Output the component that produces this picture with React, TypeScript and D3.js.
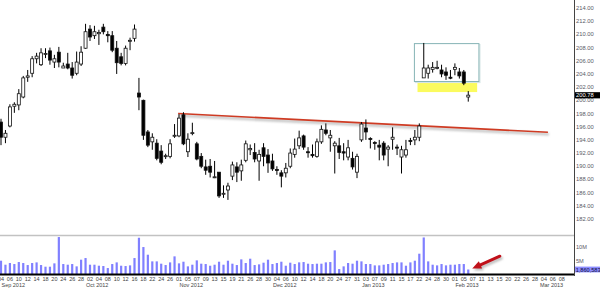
import React from "react";
import * as d3 from "d3";

// ---- trading calendar (day numbers per month) ----
const SEP_2012 = [4, 5, 6, 7, 10, 11, 12, 13, 14, 17, 18, 19, 20, 21, 24, 25, 26, 27, 28];
const OCT_2012 = [1, 2, 3, 4, 5, 8, 9, 10, 11, 12, 15, 16, 17, 18, 19, 22, 23, 24, 25, 26, 31];
const NOV_2012 = [1, 2, 5, 6, 7, 8, 9, 12, 13, 14, 15, 16, 19, 20, 21, 23, 26, 27, 28, 29, 30];
const DEC_2012 = [3, 4, 5, 6, 7, 10, 11, 12, 13, 14, 17, 18, 19, 20, 21, 24, 26, 27, 28, 31];
const JAN_2013 = [2, 3, 4, 7, 8, 9, 10, 11, 14, 15, 16, 17, 18, 22, 23, 24, 25, 28, 29, 30, 31];
const FEB_2013 = [1, 4, 5, 6, 7, 8, 11, 12, 13, 14, 15, 19, 20, 21, 22, 25, 26, 27, 28];
const MAR_2013 = [1, 4, 5, 6, 7, 8];
const MONTH_LABELS = ["Sep 2012", "Oct 2012", "Nov 2012", "Dec 2012", "Jan 2013", "Feb 2013", "Mar 2013"];
const MONTH_DAYS = [SEP_2012, OCT_2012, NOV_2012, DEC_2012, JAN_2013, FEB_2013, MAR_2013];

// ---- OHLC (Sep 4 2012 .. Feb 6 2013) ----
const OPEN = [
  196.7, 194.4, 196.1, 199.1, 199.3, 200.5, 203.5, 204.1, 206.3, 205.4,
  207.0, 207.5, 205.8, 207.3, 204.9, 205.5, 204.9, 204.1, 205.5, 207.9,
  210.8, 209.8, 210.1, 211.1, 210.0, 209.8, 207.9, 206.6, 205.6, 209.0,
  209.4, 201.1, 200.0, 195.2, 193.7, 193.5, 192.3, 191.5, 191.5, 194.6,
  194.6, 197.8, 192.2, 195.0, 193.4, 191.5, 189.9, 190.0, 188.3, 189.1,
  185.8, 186.4, 188.5, 189.9, 189.3, 190.9, 192.5, 192.1, 190.8, 192.8,
  191.7, 190.8, 189.5, 189.0, 189.0, 190.0, 191.8, 193.1, 194.6, 192.2,
  191.8, 191.5, 193.7, 195.5, 194.3, 193.1, 193.1, 192.2, 191.4, 191.2,
  189.1, 194.0, 195.8, 194.2, 193.6, 193.2, 193.5, 192.6, 194.1, 192.9,
  191.4, 191.7, 193.9, 194.0, 194.4, 203.4, 204.1, 204.7, 204.9, 204.6,
  204.3, 203.5, 204.7, 204.3, 204.3, 200.5,
];
const HIGH = [
  197.2, 195.5, 199.4, 199.7, 201.7, 203.7, 204.6, 206.7, 207.2, 207.9,
  207.9, 208.0, 206.9, 208.1, 205.7, 207.2, 205.8, 207.4, 208.2, 211.6,
  211.4, 211.3, 210.7, 211.6, 210.5, 210.5, 209.0, 207.2, 208.3, 209.5,
  211.5, 203.4, 200.1, 195.5, 195.0, 194.1, 193.2, 191.9, 194.1, 196.4,
  197.9, 198.2, 195.0, 196.6, 193.7, 192.0, 191.0, 191.1, 190.8, 189.1,
  187.1, 187.5, 190.7, 190.6, 191.0, 193.9, 193.3, 193.5, 192.5, 193.5,
  192.6, 191.9, 190.0, 189.4, 190.5, 192.7, 194.2, 195.4, 194.8, 192.9,
  193.3, 194.2, 196.2, 196.5, 195.5, 193.8, 194.3, 193.5, 194.0, 192.2,
  191.9, 196.7, 197.1, 194.4, 193.8, 194.0, 193.8, 193.2, 195.9, 193.3,
  193.1, 194.0, 194.3, 195.5, 196.5, 208.7, 205.4, 205.8, 206.0, 205.4,
  205.0, 204.6, 205.6, 204.9, 204.6, 201.4,
];
const LOW = [
  193.2, 193.5, 195.9, 198.1, 198.5, 200.3, 202.8, 203.5, 205.6, 205.2,
  206.4, 205.4, 204.9, 205.0, 204.9, 204.7, 203.3, 203.8, 205.2, 207.8,
  209.0, 209.3, 208.4, 210.0, 208.8, 207.3, 204.0, 205.3, 205.3, 207.6,
  208.9, 198.5, 194.0, 192.9, 192.5, 190.9, 190.3, 191.1, 191.2, 194.3,
  194.4, 193.2, 191.4, 194.7, 190.9, 189.7, 188.7, 188.3, 188.2, 185.2,
  185.2, 184.9, 187.9, 187.6, 187.8, 190.6, 191.7, 190.6, 187.8, 190.0,
  189.0, 189.3, 188.7, 186.8, 188.3, 189.7, 191.3, 192.6, 192.5, 191.3,
  191.3, 191.3, 193.4, 194.7, 192.2, 188.9, 191.1, 190.9, 190.9, 189.5,
  188.2, 193.7, 194.0, 192.7, 192.5, 190.9, 190.9, 190.0, 192.5, 191.7,
  188.9, 191.3, 193.2, 193.2, 193.8, 203.4, 203.3, 204.2, 204.7, 203.5,
  203.1, 203.2, 203.8, 203.3, 202.3, 199.8,
];
const CLOSE = [
  194.4, 195.0, 199.0, 199.4, 201.0, 203.4, 203.7, 206.3, 206.7, 207.2,
  207.1, 206.1, 206.3, 205.8, 205.2, 204.9, 203.8, 205.8, 207.3, 210.4,
  209.6, 210.4, 210.3, 210.4, 209.8, 207.6, 205.7, 205.6, 207.9, 209.1,
  210.8, 200.5, 194.7, 193.2, 194.4, 191.2, 190.6, 191.6, 193.4, 194.7,
  197.3, 193.4, 194.1, 195.1, 191.1, 190.0, 189.4, 189.1, 188.4, 185.5,
  185.9, 187.0, 190.2, 189.1, 190.2, 193.4, 192.7, 191.1, 191.8, 191.5,
  190.5, 189.6, 189.4, 188.5, 189.7, 192.0, 192.6, 194.3, 192.9, 192.1,
  191.6, 193.7, 195.6, 195.0, 194.7, 193.5, 192.1, 192.0, 192.8, 189.9,
  191.5, 196.4, 195.2, 194.1, 193.5, 192.9, 191.7, 192.9, 194.4, 192.8,
  192.5, 192.5, 193.8, 194.4, 196.1, 204.9, 204.9, 205.0, 205.0, 204.0,
  203.8, 203.4, 205.0, 203.7, 202.6, 200.78,
];
// volume in millions of shares
const VOLUME = [
  5.0, 3.57, 4.17, 3.81, 4.52, 4.17, 3.45, 4.17, 4.4, 3.45,
  2.86, 2.86, 4.05, 13.45, 3.81, 3.57, 3.81, 2.98, 5.36, 5.95,
  3.57, 3.57, 3.21, 3.1, 2.38, 3.81, 4.4, 3.21, 3.1, 3.33,
  5.95, 13.2, 9.88, 7.14, 4.76, 4.76, 3.93, 3.45, 4.4, 6.55,
  4.05, 4.64, 2.98, 3.57, 5.12, 3.93, 3.81, 3.21, 3.57, 4.64,
  3.57, 5.0, 3.93, 3.45, 5.48, 4.17, 5.71, 3.45, 3.69, 4.29,
  5.36, 3.81, 4.17, 4.64, 3.21, 4.29, 3.81, 4.4, 4.52, 3.93,
  3.81, 3.93, 3.93, 4.4, 4.52, 8.69, 2.02, 2.98, 4.17, 3.93,
  5.0, 4.76, 3.81, 3.81, 3.33, 3.33, 3.57, 3.81, 4.17, 4.4,
  4.4, 3.21, 4.4, 5.0, 7.5, 13.3, 4.76, 3.57, 3.33, 3.81,
  3.33, 3.57, 3.57, 3.81, 3.81, 1.86,
];
const LAST_PRICE_LABEL = "200.78";
const LAST_VOLUME_LABEL = "1,860,583";
const PRICE_TICKS = [182, 184, 186, 188, 190, 192, 194, 196, 198, 200, 202, 204, 206, 208, 210, 212, 214];
const VOLUME_TICKS = [5, 10];
const VOLUME_TICK_LABELS = ["5M", "10M"];

// annotations (in index / price / volume units)
const TREND_IDX = [39.8, 122.9];
const TREND_PRICE = [198.0, 195.15];
const BOX_IDX = [92.9, 107.4];
const BOX_PRICE = [208.6, 202.85];
const HILITE_IDX = [93.6, 107.0];
const HILITE_PRICE = [202.62, 201.25];
const ARROW_IDX = [112.1, 105.9];
const ARROW_VOL = [6.6, 2.2];

export default function App() {
  const W = 600;
  const H = 289;
  const axisX = 574.5;

  const dates: { m: number; d: number }[] = [];
  MONTH_DAYS.forEach((days, m) => days.forEach((d) => dates.push({ m, d })));
  const nAll = dates.length;

  const x = d3.scaleLinear().domain([0, nAll - 1]).range([1, 1 + 4.45 * (nAll - 1)]);
  const y = d3.scaleLinear().domain([182, 214]).range([219, 8]);
  const v = d3.scaleLinear().domain([0, 10]).range([274.7, 246.7]);

  const candles = CLOSE.map((c, i) => ({ i, o: OPEN[i], h: HIGH[i], l: LOW[i], c }));
  const bw = 3;

  const firstOfMonth: number[] = [];
  dates.forEach((dt, i) => {
    if (i === 0 || dates[i - 1].m !== dt.m) firstOfMonth.push(i);
  });

  const font = "'Liberation Sans', Arial, sans-serif";

  // arrow geometry
  const ax0 = x(ARROW_IDX[0]), ay0 = v(ARROW_VOL[0]);
  const ax1 = x(ARROW_IDX[1]), ay1 = v(ARROW_VOL[1]);
  const ang = Math.atan2(ay1 - ay0, ax1 - ax0);
  const headLen = 9, headW = 4;
  const bx = ax1 - headLen * Math.cos(ang), by = ay1 - headLen * Math.sin(ang);
  const px = -Math.sin(ang), py = Math.cos(ang);
  const headPts = [
    [ax1, ay1],
    [bx + px * headW, by + py * headW],
    [bx - px * headW, by - py * headW],
  ];
  const headPath = d3.line()(headPts as [number, number][]) + "Z";

  const trendLine = d3
    .line<number>()
    .x((_, k) => x(TREND_IDX[k]))
    .y((p) => y(p));

  return (
    <svg
      width={W}
      height={H}
      style={{ position: "fixed", left: 0, top: 0, background: "#fff" }}
      fontFamily={font}
    >
      <defs>
        <clipPath id="mainClip">
          <rect x={0} y={0} width={axisX} height={232} />
        </clipPath>
        <filter id="blurS" x="-20%" y="-50%" width="140%" height="200%">
          <feGaussianBlur stdDeviation="0.8" />
        </filter>
      </defs>
      <rect x={0} y={0} width={W} height={H} fill="#fff" />

      <g clipPath="url(#mainClip)">
        {/* teal box */}
        <rect
          x={x(BOX_IDX[0]) + 1}
          y={y(BOX_PRICE[0]) + 1}
          width={x(BOX_IDX[1]) - x(BOX_IDX[0])}
          height={y(BOX_PRICE[1]) - y(BOX_PRICE[0])}
          fill="none"
          stroke="#d8e6e6"
          strokeWidth={1.2}
        />
        <rect
          x={x(BOX_IDX[0])}
          y={y(BOX_PRICE[0])}
          width={x(BOX_IDX[1]) - x(BOX_IDX[0])}
          height={y(BOX_PRICE[1]) - y(BOX_PRICE[0])}
          fill="#fff"
          stroke="#86b4b6"
          strokeWidth={1}
        />
        {/* yellow highlight */}
        <rect
          x={x(HILITE_IDX[0])}
          y={y(HILITE_PRICE[0])}
          width={x(HILITE_IDX[1]) - x(HILITE_IDX[0])}
          height={y(HILITE_PRICE[1]) - y(HILITE_PRICE[0])}
          fill="#fbfb5e"
        />
        {/* trend line shadow + line */}
        <path
          d={trendLine(TREND_PRICE) || ""}
          transform="translate(1,2)"
          fill="none"
          stroke="#c4c4c4"
          strokeWidth={2.6}
          filter="url(#blurS)"
        />
        <path d={trendLine(TREND_PRICE) || ""} fill="none" stroke="#cf3b23" strokeWidth={1.6} />

        {/* candles */}
        {candles.map((k) => {
          const cx = x(k.i);
          const up = k.c >= k.o;
          const top = y(Math.max(k.o, k.c));
          const bot = y(Math.min(k.o, k.c));
          const bh = Math.max(1, bot - top);
          return (
            <g key={k.i}>
              <line x1={cx} x2={cx} y1={y(k.h)} y2={y(k.l)} stroke="#000" strokeWidth={1} />
              <rect
                x={cx - bw / 2}
                y={top}
                width={bw}
                height={bh}
                fill={up ? "#fff" : "#000"}
                stroke="#111"
                strokeWidth={0.8}
              />
            </g>
          );
        })}
      </g>

      {/* volume panel top line */}
      <line x1={0} x2={axisX} y1={235.6} y2={235.6} stroke="#c2c2c2" strokeWidth={1.5} />

      {/* volume bars */}
      {VOLUME.map((vol, i) => (
        <rect
          key={i}
          x={x(i) - 1.1}
          y={v(vol)}
          width={2.2}
          height={v(0) - v(vol)}
          fill="#8080ff"
        />
      ))}

      {/* bottom axis line */}
      <line x1={0} x2={axisX} y1={274.6} y2={274.6} stroke="#000" strokeWidth={2} />

      {/* right axis line */}
      <line x1={axisX} x2={axisX} y1={0} y2={276} stroke="#444" strokeWidth={1} />

      {/* price labels */}
      {PRICE_TICKS.map((p) => (
        <text
          key={p}
          x={axisX + 1.5}
          y={y(p)}
          dy="0.35em"
          fontSize={5.8}
          fill="#5a5a66"
        >
          {p.toFixed(2)}
        </text>
      ))}
      <rect x={axisX + 0.5} y={y(200.78) - 3} width={W - axisX} height={6.2} fill="#000" />
      <text x={axisX + 1.5} y={y(200.78)} dy="0.37em" fontSize={5.8} fill="#fff">
        {LAST_PRICE_LABEL}
      </text>

      {/* volume labels */}
      {VOLUME_TICKS.map((t, k) => (
        <text key={t} x={axisX + 1.5} y={v(t)} dy="0.35em" fontSize={5.6} fill="#5a5a66">
          {VOLUME_TICK_LABELS[k]}
        </text>
      ))}
      <rect x={axisX + 0.5} y={v(1.86) - 2.9} width={W - axisX} height={5.8} fill="#8c8cff" />
      <text x={axisX + 1.2} y={v(1.86)} dy="0.36em" fontSize={5.6} fill="#101040">
        {LAST_VOLUME_LABEL}
      </text>

      {/* red arrow with shadow */}
      <g transform="translate(1.5,2)" filter="url(#blurS)" opacity={0.55}>
        <line x1={ax0} y1={ay0} x2={bx} y2={by} stroke="#888" strokeWidth={3} strokeLinecap="round" />
        <path d={headPath} fill="#888" />
      </g>
      <line x1={ax0} y1={ay0} x2={bx} y2={by} stroke="#c0111a" strokeWidth={3} strokeLinecap="round" />
      <path d={headPath} fill="#c0111a" />

      {/* day labels */}
      {dates.map((dt, i) =>
        i % 2 === 0 ? (
          <text
            key={"d" + i}
            x={x(i)}
            y={281.3}
            textAnchor="middle"
            fontSize={5.5}
            fill="#444"
          >
            {String(dt.d).padStart(2, "0")}
          </text>
        ) : null
      )}
      {/* month labels */}
      {firstOfMonth.map((i) => (
        <text key={"m" + i} x={x(i) + 0.5} y={287.3} fontSize={5.5} fill="#444">
          {MONTH_LABELS[dates[i].m]}
        </text>
      ))}
    </svg>
  );
}
